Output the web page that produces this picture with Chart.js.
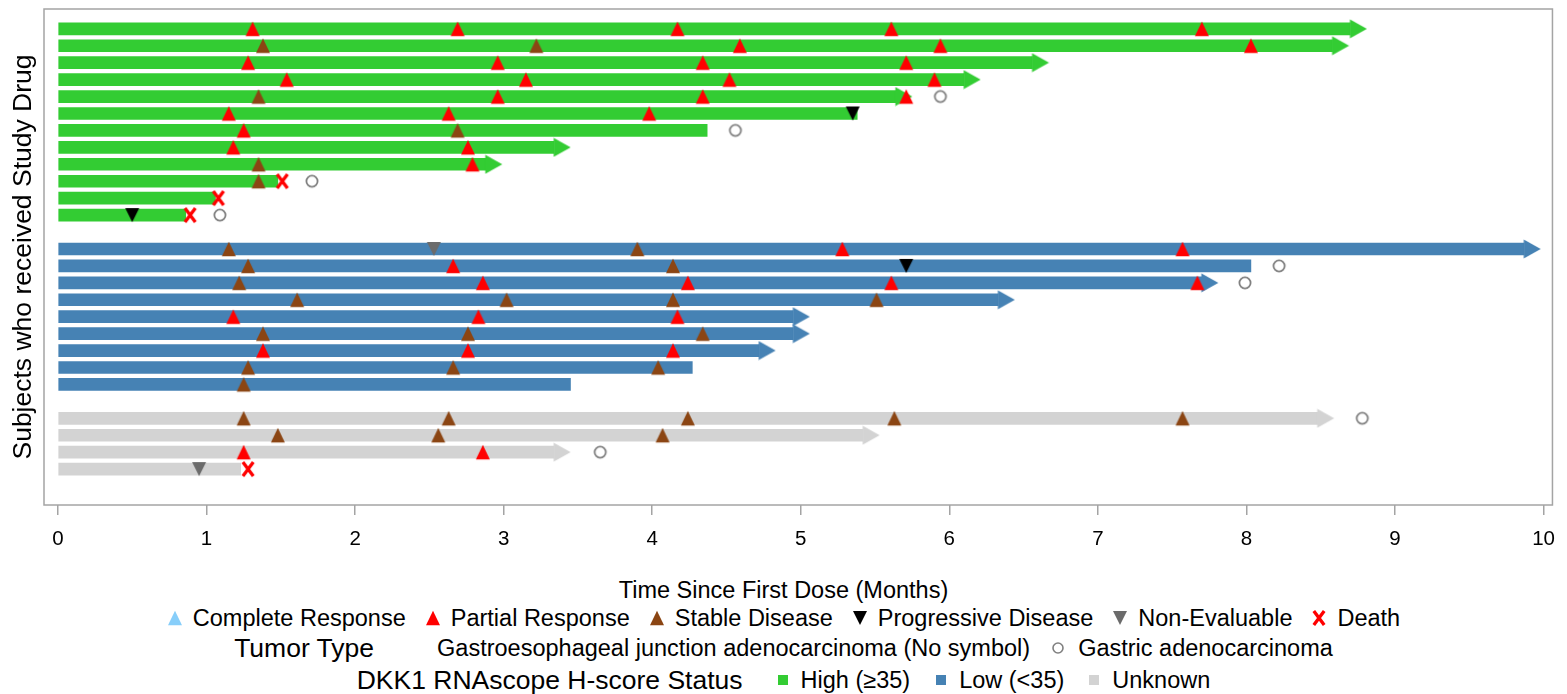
<!DOCTYPE html>
<html>
<head>
<meta charset="utf-8">
<title>Swimmer plot - time since first dose</title>
<script src="https://cdn.jsdelivr.net/npm/chart.js@4.4.1/dist/chart.umd.min.js"></script>
<style>
  body { margin: 0; background: #fff; }
  #wrap { position: relative; width: 1567px; height: 694px; font-family: 'Liberation Sans', Arial, sans-serif; color: #000; }
  #chart { position: absolute; left: 0; top: 0; }
  .row { position: absolute; left: 0; width: 1567px; height: 24px; line-height: 24px; font-size: 23.5px;
         display: flex; justify-content: center; align-items: center; white-space: nowrap; }
  .row canvas { display: block; flex: none; }
  .row .head { font-size: 26.5px; }
</style>
</head>
<body>
<div id="wrap">
  <canvas id="chart" width="1567" height="565"></canvas>
  <div class="row" id="xTitle" style="top:578px">Time Since First Dose (Months)</div>
  <div class="row" id="legendResponse" style="top:606px"></div>
  <div class="row" id="legendTumor" style="top:636px"></div>
  <div class="row" id="legendStatus" style="top:668px"></div>
</div>
<script>
// months on study for each subject (end of the bar); ongoing subjects get an arrow
const highEnd = [8.70, 8.58, 6.56, 6.10, 5.64, 5.38, 4.37, 3.34, 2.88, 1.48, 1.06, 0.86];
const highOngoing = [true, true, true, true, true, false, false, true, true, false, false, false];
const lowEnd = [9.87, 8.03, 7.70, 6.33, 4.95, 4.95, 4.72, 4.27, 3.45];
const lowOngoing = [true, false, true, true, true, true, true, false, false];
const unknownEnd = [8.48, 5.42, 3.34, 1.23];
const unknownOngoing = [true, true, true, false];

// row slot of each subject, one empty slot between the groups
const highRows = [1, 2, 3, 4, 5, 6, 7, 8, 9, 10, 11, 12];
const lowRows = [14, 15, 16, 17, 18, 19, 20, 21, 22];
const unknownRows = [24, 25, 26, 27];

// assessments as [row, month]
const completeResponse = [];
const partialResponse = [
  [1, 1.31], [1, 2.69], [1, 4.17], [1, 5.61], [1, 7.70],
  [2, 4.59], [2, 5.94], [2, 8.03],
  [3, 1.28], [3, 2.96], [3, 4.34], [3, 5.71],
  [4, 1.54], [4, 3.15], [4, 4.52], [4, 5.90],
  [5, 2.96], [5, 4.34], [5, 5.71],
  [6, 1.15], [6, 2.63], [6, 3.98],
  [7, 1.25], [8, 1.18], [8, 2.76], [9, 2.79],
  [14, 5.28], [14, 7.57], [15, 2.66],
  [16, 2.86], [16, 4.24], [16, 5.61], [16, 7.67],
  [18, 1.18], [18, 2.83], [18, 4.17],
  [20, 1.38], [20, 2.76], [20, 4.14],
  [26, 1.25], [26, 2.86]
];
const stableDisease = [
  [2, 1.38], [2, 3.22], [5, 1.35], [7, 2.69], [9, 1.35], [10, 1.35],
  [14, 1.15], [14, 3.90], [15, 1.28], [15, 4.14], [16, 1.22],
  [17, 1.61], [17, 3.02], [17, 4.14], [17, 5.51],
  [19, 1.38], [19, 2.76], [19, 4.34],
  [21, 1.28], [21, 2.66], [21, 4.04], [22, 1.25],
  [24, 1.25], [24, 2.63], [24, 4.24], [24, 5.63], [24, 7.57],
  [25, 1.48], [25, 2.56], [25, 4.07]
];
const progressiveDisease = [[6, 5.35], [12, 0.50], [15, 5.71]];
const nonEvaluable = [[14, 2.53], [27, 0.95]];
const death = [[10, 1.51], [11, 1.08], [12, 0.89], [27, 1.28]];
const gastric = [[5, 5.94], [7, 4.56], [10, 1.71], [12, 1.09], [15, 8.22], [16, 7.99], [24, 8.78], [26, 3.65]];

const monthTicks = [0, 1, 2, 3, 4, 5, 6, 7, 8, 9, 10];

const COLORS = {
  high: '#33cc33', low: '#4682b4', unknown: '#d3d3d3',
  cr: '#87cefa', pr: '#ff0000', sd: '#8b4513', pd: '#000000', ne: '#6b6b6b',
  death: '#ff0000', gastric: '#808080', frame: '#a4a4a4'
};

function drawMarker(ctx, kind, color, cx, cy) {
  ctx.fillStyle = color;
  ctx.strokeStyle = color;
  ctx.beginPath();
  if (kind === 'up') {
    ctx.moveTo(cx - 7, cy + 7.25);
    ctx.lineTo(cx + 7, cy + 7.25);
    ctx.lineTo(cx, cy - 7.25);
    ctx.closePath();
    ctx.fill();
  } else if (kind === 'down') {
    ctx.moveTo(cx - 7, cy - 7);
    ctx.lineTo(cx + 7, cy - 7);
    ctx.lineTo(cx, cy + 7);
    ctx.closePath();
    ctx.fill();
  } else if (kind === 'x') {
    ctx.lineWidth = 3.3;
    ctx.moveTo(cx - 5.2, cy - 7);
    ctx.lineTo(cx + 5.2, cy + 7);
    ctx.moveTo(cx + 5.2, cy - 7);
    ctx.lineTo(cx - 5.2, cy + 7);
    ctx.stroke();
  } else if (kind === 'circle' || kind === 'ring') {
    ctx.lineWidth = kind === 'circle' ? 1.8 : 1.6;
    ctx.arc(cx, cy, kind === 'circle' ? 5.6 : 5, 0, Math.PI * 2);
    ctx.stroke();
  } else if (kind === 'square') {
    ctx.fillRect(cx - 5, cy - 5, 10, 10);
  } else if (kind === 'arrow') {
    // base sits on the point, tip points right
    ctx.moveTo(cx - 0.5, cy - 9.5);
    ctx.lineTo(cx + 16.5, cy);
    ctx.lineTo(cx - 0.5, cy + 9.5);
    ctx.closePath();
    ctx.fill();
  }
}

function markerImage(kind, color, w, h) {
  const c = document.createElement('canvas');
  c.width = w;
  c.height = h;
  drawMarker(c.getContext('2d'), kind, color, w / 2, h / 2);
  return c;
}

function barSet(label, ends, rows, color) {
  return {
    type: 'bar', label, indexAxis: 'y', order: 2,
    data: ends.map((e, i) => ({ x: [0, e], y: rows[i] })),
    backgroundColor: color, borderWidth: 0, barThickness: 12, grouped: false
  };
}

function arrowSet(ends, ongoing, rows, color) {
  const pts = [];
  ends.forEach((e, i) => { if (ongoing[i]) pts.push({ x: e, y: rows[i] }); });
  return { type: 'scatter', order: 1, data: pts, pointStyle: markerImage('arrow', color, 34, 20), pointRadius: 8 };
}

function eventSet(label, events, kind, color) {
  return {
    type: 'scatter', label, order: 0,
    data: events.map(([row, m]) => ({ x: m, y: row })),
    pointStyle: markerImage(kind, color, 20, 20), pointRadius: 7
  };
}

const framePlugin = {
  id: 'frame',
  beforeDatasetsDraw(chart) {
    const { ctx, chartArea: a } = chart;
    ctx.save();
    ctx.strokeStyle = COLORS.frame;
    ctx.lineWidth = 1.5;
    ctx.strokeRect(a.left, a.top, a.right - a.left, a.bottom - a.top);
    ctx.restore();
  }
};

Chart.defaults.font.family = "'Liberation Sans', Arial, sans-serif";
Chart.defaults.color = '#000';

new Chart(document.getElementById('chart'), {
  type: 'scatter',
  data: {
    datasets: [
      barSet('High (≥35)', highEnd, highRows, COLORS.high),
      barSet('Low (<35)', lowEnd, lowRows, COLORS.low),
      barSet('Unknown', unknownEnd, unknownRows, COLORS.unknown),
      arrowSet(highEnd, highOngoing, highRows, COLORS.high),
      arrowSet(lowEnd, lowOngoing, lowRows, COLORS.low),
      arrowSet(unknownEnd, unknownOngoing, unknownRows, COLORS.unknown),
      eventSet('Complete Response', completeResponse, 'up', COLORS.cr),
      eventSet('Partial Response', partialResponse, 'up', COLORS.pr),
      eventSet('Stable Disease', stableDisease, 'up', COLORS.sd),
      eventSet('Progressive Disease', progressiveDisease, 'down', COLORS.pd),
      eventSet('Non-Evaluable', nonEvaluable, 'down', COLORS.ne),
      eventSet('Gastric adenocarcinoma', gastric, 'circle', COLORS.gastric),
      eventSet('Death', death, 'x', COLORS.death)
    ]
  },
  options: {
    responsive: false,
    animation: false,
    events: [],
    layout: { padding: { top: 5, right: 10, left: 0, bottom: 0 } },
    plugins: { legend: { display: false }, tooltip: { enabled: false } },
    scales: {
      x: {
        type: 'linear', position: 'bottom', min: -0.094, max: 10.06,
        afterBuildTicks: s => { s.ticks = monthTicks.map(v => ({ value: v })); },
        afterFit: s => { s.height = 60; },
        ticks: { font: { size: 20.5 }, padding: 12, callback: v => String(v) },
        grid: { drawOnChartArea: false, tickLength: 10, color: COLORS.frame, lineWidth: 1.5 },
        border: { display: false }
      },
      y: {
        type: 'linear', reverse: true, min: -0.17, max: 29.12, offset: false,
        afterFit: s => { s.width = 44; },
        ticks: { display: false },
        grid: { display: false },
        border: { display: false },
        title: { display: true, text: 'Subjects who received Study Drug', font: { size: 26.5 }, padding: { top: 8, bottom: 0 } }
      }
    }
  },
  plugins: [framePlugin]
});

// legend rows under the axis title
function legendMarker(kind, color, size, gap) {
  const c = markerImage(kind, color, size, size);
  c.style.marginLeft = gap + 'px';
  return c;
}
function legendText(text, gap, cls) {
  const s = document.createElement('span');
  s.textContent = text;
  s.style.marginLeft = gap + 'px';
  if (cls) s.className = cls;
  return s;
}

const responseRow = document.getElementById('legendResponse');
[['up', COLORS.cr, 'Complete Response'], ['up', COLORS.pr, 'Partial Response'], ['up', COLORS.sd, 'Stable Disease'],
 ['down', COLORS.pd, 'Progressive Disease'], ['down', COLORS.ne, 'Non-Evaluable'], ['x', COLORS.death, 'Death']]
  .forEach(([kind, color, text], i) => {
    responseRow.appendChild(legendMarker(kind, color, 16, i === 0 ? 0 : 19));
    responseRow.appendChild(legendText(text, 10));
  });

const tumorRow = document.getElementById('legendTumor');
tumorRow.appendChild(legendText('Tumor Type', 0, 'head'));
tumorRow.appendChild(legendText('Gastroesophageal junction adenocarcinoma (No symbol)', 63));
tumorRow.appendChild(legendMarker('ring', COLORS.gastric, 14, 21));
tumorRow.appendChild(legendText('Gastric adenocarcinoma', 13));

const statusRow = document.getElementById('legendStatus');
statusRow.appendChild(legendText('DKK1 RNAscope H-score Status', 0, 'head'));
[[COLORS.high, 'High (≥35)', 34], [COLORS.low, 'Low (<35)', 25], [COLORS.unknown, 'Unknown', 24]]
  .forEach(([color, text, gap]) => {
    statusRow.appendChild(legendMarker('square', color, 12, gap));
    statusRow.appendChild(legendText(text, 12));
  });
</script>
</body>
</html>
